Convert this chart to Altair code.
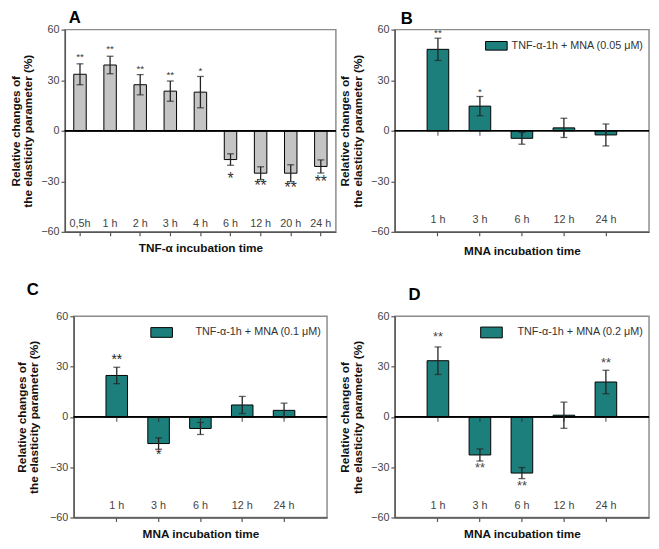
import altair as alt
import pandas as pd

FONT = "Liberation Sans"
TEAL = "#1c7f7b"
GRAY = "#c4c4c4"

# ---- Panel A: TNF-alpha incubation ----
a_labels = ["0,5h", "1 h", "2 h", "3 h", "4 h", "6 h", "12 h", "20 h", "24 h"]
a_values = [33.5, 39.0, 27.3, 23.5, 22.9, -17.1, -25.2, -25.2, -21.2]
a_errors = [6.2, 5.2, 6.0, 6.0, 9.3, 3.4, 3.8, 5.0, 3.9]
a_stars = ["**", "**", "**", "**", "*", "*", "**", "**", "**"]
a_star_y = [43.6, 48.5, 36.5, 33.0, 35.4, -28.8, -32.7, -34.2, -30.4]

# ---- Panels B, C, D: MNA incubation ----
mna_labels = ["1 h", "3 h", "6 h", "12 h", "24 h"]

b_values = [48.3, 14.6, -4.5, 1.7, -2.5]
b_errors = [6.6, 5.7, 3.5, 5.7, 6.5]
b_stars = ["**", "*", "", "", ""]
b_star_y = [57.7, 23.1, 0, 0, 0]

c_values = [24.7, -15.9, -6.9, 7.1, 3.9]
c_errors = [4.9, 3.4, 3.6, 5.1, 4.3]
c_stars = ["**", "*", "", "", ""]
c_star_y = [34.0, -23.0, 0, 0, 0]

d_values = [33.5, -22.7, -33.5, 1.0, 20.8]
d_errors = [8.2, 3.6, 3.3, 7.8, 7.0]
d_stars = ["**", "**", "**", "", "**"]
d_star_y = [47.7, -30.4, -41.3, 0, 32.3]

y_title = ["Relative changes of", "the elasticity parameter (%)"]


def panel(letter, labels, values, errors, stars, star_y, *, legend_text=None,
          legend_label_offset=4, legend_symbol="M-1,-0.4H1V0.4H-1Z",
          x_title, width, height, p_inner, p_outer, letter_dx, letter_offset,
          label_pad, x_title_pad, y_title_pad, star_pos_size, star_neg_size,
          star_color, zero_ticks, minor):
    df = pd.DataFrame({
        "label": labels,
        "value": values,
        "lo": [v - e for v, e in zip(values, errors)],
        "hi": [v + e for v, e in zip(values, errors)],
        "series": [legend_text or ""] * len(labels),
    })
    sdf = pd.DataFrame({"label": labels, "star": stars, "sy": star_y})
    sdf = sdf[sdf["star"] != ""]

    x = alt.X("label:N", sort=labels,
              scale=alt.Scale(paddingInner=p_inner, paddingOuter=p_outer),
              axis=alt.Axis(title=x_title, labelAngle=0, labelPadding=label_pad,
                            labelBaseline="middle", tickSize=4,
                            titlePadding=x_title_pad))
    if minor:
        yvals = [-60, -45, -30, -15, 0, 15, 30, 45, 60]
        lexpr = "datum.value % 30 == 0 ? datum.label : ''"
    else:
        yvals = [-60, -30, 0, 30, 60]
        lexpr = "datum.label"
    yaxis = alt.Axis(title=y_title, values=yvals, labelExpr=lexpr,
                     tickSize=4, labelPadding=2, titlePadding=y_title_pad)
    yscale = alt.Scale(domain=[-60, 60], nice=False, zero=False)

    def Y(field):
        return alt.Y(field, scale=yscale, axis=yaxis)

    if legend_text:
        color = alt.Color("series:N", scale=alt.Scale(range=[TEAL]),
                          legend=alt.Legend(title=None, orient="top-right",
                                            offset=5, padding=0,
                                            symbolType=legend_symbol,
                                            symbolSize=484,
                                            symbolStrokeColor="black",
                                            symbolStrokeWidth=1,
                                            symbolOpacity=1,
                                            labelOffset=legend_label_offset,
                                            labelFont=FONT, labelFontSize=11,
                                            labelColor="#333"))
    else:
        color = alt.value(GRAY)

    bars = alt.Chart(df).mark_bar(stroke="black", strokeWidth=1, opacity=1).encode(
        x=x, y=Y("value:Q"), color=color)
    zero = alt.Chart(df).mark_rule(color="black", strokeWidth=1).encode(
        y=alt.datum(0))
    err = alt.Chart(df).mark_rule(color="#222", strokeWidth=1.3).encode(
        x=x, y=Y("lo:Q"), y2="hi:Q")
    cap_lo = alt.Chart(df).mark_tick(color="#222", thickness=1.3, size=7,
                                     orient="horizontal").encode(x=x, y=Y("lo:Q"))
    cap_hi = alt.Chart(df).mark_tick(color="#222", thickness=1.3, size=7,
                                     orient="horizontal").encode(x=x, y=Y("hi:Q"))
    layers = [bars, zero, err, cap_lo, cap_hi]
    if zero_ticks:
        layers.append(alt.Chart(df).mark_tick(color="#222", thickness=1.2, size=5,
                                              orient="vertical", yOffset=2.5)
                      .encode(x=x, y=alt.datum(0)))
    pos = sdf[sdf["sy"] > 0]
    neg = sdf[sdf["sy"] < 0]
    if len(pos):
        layers.append(alt.Chart(pos).mark_text(font=FONT, fontSize=star_pos_size,
                                               color=star_color, baseline="middle")
                      .encode(x=x, y=Y("sy:Q"), text="star:N"))
    if len(neg):
        layers.append(alt.Chart(neg).mark_text(font=FONT, fontSize=star_neg_size,
                                               color=star_color, baseline="middle")
                      .encode(x=x, y=Y("sy:Q"), text="star:N"))
    return alt.layer(*layers).properties(
        width=width, height=height,
        title=alt.TitleParams(text=letter, anchor="start", frame="group",
                              dx=letter_dx, offset=letter_offset,
                              fontSize=17, font=FONT, fontWeight="bold",
                              color="black"))


A = panel("A", a_labels, a_values, a_errors, a_stars, a_star_y,
          x_title="TNF-α incubation time", width=276, height=206,
          p_inner=0.586, p_outer=0.293, letter_dx=4, letter_offset=-3,
          label_pad=-12, x_title_pad=6, y_title_pad=6,
          star_pos_size=10, star_neg_size=16, star_color="#333",
          zero_ticks=False, minor=True)
B = panel("B", mna_labels, b_values, b_errors, b_stars, b_star_y,
          legend_text="TNF-α-1h + MNA (0.05 μM)", legend_label_offset=4,
          x_title="MNA incubation time", width=259, height=206,
          p_inner=0.485, p_outer=0.77, letter_dx=6, letter_offset=-4,
          label_pad=-16, x_title_pad=9, y_title_pad=6,
          star_pos_size=10, star_neg_size=10, star_color="#333",
          zero_ticks=True, minor=False)
C = panel("C", mna_labels, c_values, c_errors, c_stars, c_star_y,
          legend_text="TNF-α-1h + MNA (0.1 μM)", legend_label_offset=23,
          legend_symbol="M-1,-0.45H1V0.45H-1Z",
          x_title="MNA incubation time", width=258, height=205,
          p_inner=0.485, p_outer=0.77, letter_dx=-48, letter_offset=12,
          label_pad=-16, x_title_pad=7, y_title_pad=9,
          star_pos_size=14, star_neg_size=14, star_color="#222",
          zero_ticks=True, minor=False)
D = panel("D", mna_labels, d_values, d_errors, d_stars, d_star_y,
          legend_text="TNF-α-1h + MNA (0.2 μM)", legend_label_offset=15,
          legend_symbol="M-1,-0.5H1V0.5H-1Z",
          x_title="MNA incubation time", width=259, height=205,
          p_inner=0.485, p_outer=0.77, letter_dx=14, letter_offset=7,
          label_pad=-16, x_title_pad=7, y_title_pad=6,
          star_pos_size=13, star_neg_size=13, star_color="#444",
          zero_ticks=True, minor=False)

chart = alt.concat(A, B, C, D, columns=2, spacing={"row": 86, "column": 60},
                   center={"column": True, "row": False},
                   align="each", bounds="flush").resolve_scale(
    color="independent").properties(
    padding={"left": 0, "top": -5, "right": 0, "bottom": 0}).configure_view(
    stroke="#8c8c8c", strokeWidth=1.5).configure_axis(
    grid=False, labelFont=FONT, labelFontSize=11, labelColor="#444",
    titleFont=FONT, titleFontSize=12, titleFontWeight="bold", titleColor="#111",
    domainColor="#555", domainWidth=1.3, tickColor="#555", tickWidth=1.2,
    titleLineHeight=13)

chart.save("out.html", embed_options={"renderer": "svg", "actions": False})
